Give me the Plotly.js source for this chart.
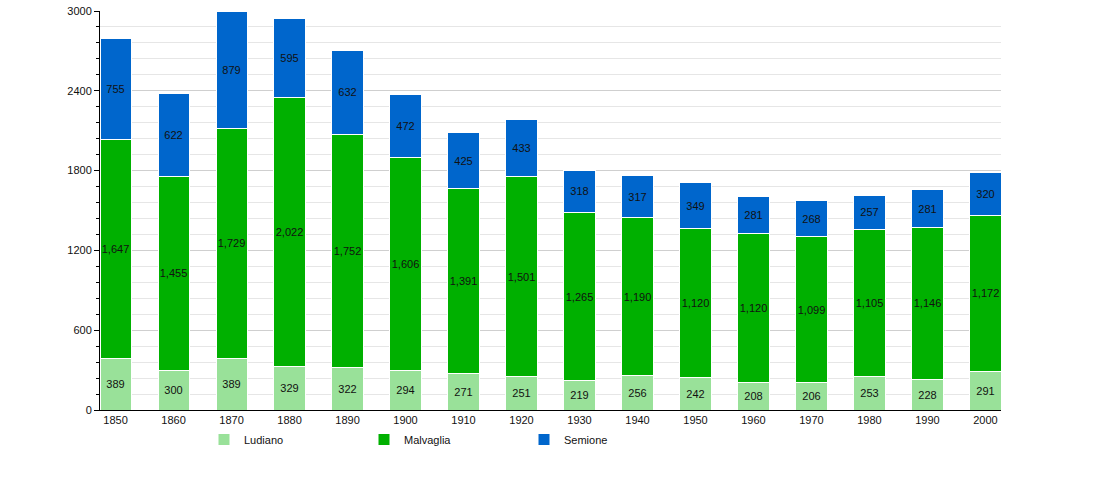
<!DOCTYPE html>
<html>
<head>
<meta charset="utf-8">
<script src="https://cdn.plot.ly/plotly-3.0.1.min.js"></script>
<style>
  html, body { margin: 0; padding: 0; background: #fff; }
  #chart { width: 1100px; height: 500px; }
</style>
</head>
<body>
<div id="chart"></div>
<script>
const years = [1850, 1860, 1870, 1880, 1890, 1900, 1910, 1920, 1930, 1940, 1950, 1960, 1970, 1980, 1990, 2000];
const ludiano = [389, 300, 389, 329, 322, 294, 271, 251, 219, 256, 242, 208, 206, 253, 228, 291];
const malvaglia = [1647, 1455, 1729, 2022, 1752, 1606, 1391, 1501, 1265, 1190, 1120, 1120, 1099, 1105, 1146, 1172];
const semione = [755, 622, 879, 595, 632, 472, 425, 433, 318, 317, 349, 281, 268, 257, 281, 320];

const seriesNames = ['Ludiano', 'Malvaglia', 'Semione'];
const seriesColors = ['#99e199', '#00b000', '#0066cc'];

const FONT = 'Liberation Sans, Arial, sans-serif';
const barWidth = 5.35;

function makeTrace(values, i) {
    return {
        type: 'bar',
        name: seriesNames[i],
        x: years,
        y: values,
        width: barWidth,
        marker: { color: seriesColors[i], line: { color: '#ffffff', width: 1 } },
        texttemplate: '%{y:,}',
        textposition: 'inside',
        insidetextanchor: 'middle',
        textangle: 0,
        constraintext: 'none',
        insidetextfont: { family: FONT, size: 11, color: '#111111' },
        hoverinfo: 'x+y+name'
    };
}

const traces = [ludiano, malvaglia, semione].map(makeTrace);

const layout = {
    width: 1100,
    height: 500,
    margin: { l: 100, r: 99, t: 11, b: 90 },
    paper_bgcolor: '#ffffff',
    plot_bgcolor: '#ffffff',
    barmode: 'stack',
    font: { family: FONT, size: 11, color: '#111111' },
    showlegend: true,
    legend: {
        orientation: 'h',
        xref: 'container', yref: 'container',
        x: 204 / 1100, xanchor: 'left',
        y: 1 - 425 / 500, yanchor: 'top',
        entrywidth: 115, entrywidthmode: 'pixels',
        font: { family: FONT, size: 11, color: '#111111' },
        traceorder: 'normal',
        itemclick: false
    },
    xaxis: {
        range: [1850 - barWidth / 2, 2000 + barWidth / 2],
        tickvals: years,
        ticktext: years.map(String),
        ticks: '',
        showgrid: false,
        zeroline: false,
        showline: true,
        linecolor: '#000000',
        linewidth: 1,
        tickfont: { family: FONT, size: 11, color: '#111111' },
        fixedrange: true
    },
    yaxis: {
        range: [0, 3000],
        dtick: 600,
        tick0: 0,
        ticks: 'outside',
        ticklen: 5,
        tickcolor: '#000000',
        showgrid: true,
        gridcolor: '#cfcfcf',
        zeroline: false,
        showline: true,
        linecolor: '#000000',
        linewidth: 1,
        tickfont: { family: FONT, size: 11, color: '#111111' },
        minor: {
            dtick: 120,
            ticks: 'outside',
            ticklen: 3,
            tickcolor: '#000000',
            showgrid: true,
            gridcolor: '#e6e6e6'
        },
        fixedrange: true
    }
};

Plotly.newPlot('chart', traces, layout, { displayModeBar: false, staticPlot: true });
</script>
</body>
</html>
